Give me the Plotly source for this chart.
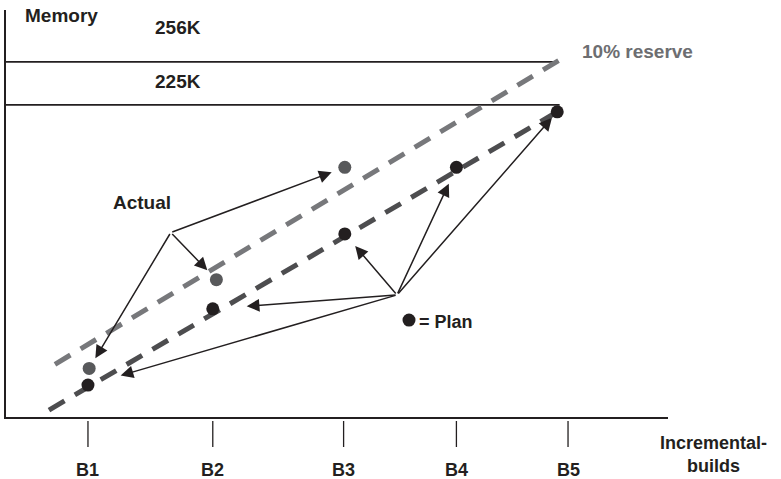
import plotly.graph_objects as go

# --- data -------------------------------------------------------------
builds = ["B1", "B2", "B3", "B4", "B5"]
build_pos = [1.0, 2.04, 3.13, 4.07, 5.0]

# planned memory use per incremental build (K)
plan_x = [1.0, 2.04, 3.14, 4.07, 4.91]
plan_mem = [23, 78, 132, 180, 220]

# actual memory use measured so far (K)
actual_x = [1.01, 2.07, 3.14]
actual_mem = [35, 99, 180]

# memory limits
limit_mem = [256, 225]
limit_labels = ["256K", "225K"]
limit_end_x = [4.92, 4.93]

# trend lines: plan and the plan plus 10% reserve
plan_trend_x = [0.675, 4.91]
plan_trend_mem = [5, 220]
reserve_x = [0.725, 5.0]
reserve_mem = [38, 261]

# --- styling ------------------------------------------------------------
FONT = "Liberation Sans"
INK = "#231f20"
GREY = "#6d6e71"
X_RANGE = [0.317, 5.833]
Y_RANGE = [0, 293.4]
PLOT_H = 407  # px

fig = go.Figure()

# limit lines
for mem, x_end in zip(limit_mem, limit_end_x):
    fig.add_trace(go.Scatter(x=[X_RANGE[0], x_end], y=[mem, mem], mode="lines",
                             line=dict(color=INK, width=1.6), hoverinfo="skip"))

# dashed trend lines
fig.add_trace(go.Scatter(x=reserve_x, y=reserve_mem, mode="lines",
                         line=dict(color="#77787b", width=5, dash="18px,12px"),
                         hoverinfo="skip"))
fig.add_trace(go.Scatter(x=plan_trend_x, y=plan_trend_mem, mode="lines",
                         line=dict(color="#4d4d4f", width=5, dash="18px,12px"),
                         hoverinfo="skip"))

# points
fig.add_trace(go.Scatter(x=actual_x, y=actual_mem, mode="markers",
                         marker=dict(color="#58595b", size=13), name="Actual"))
fig.add_trace(go.Scatter(x=plan_x, y=plan_mem, mode="markers",
                         marker=dict(color=INK, size=13), name="Plan"))

# legend key for the plan dot
key_x, key_mem = 3.675, 69.9
fig.add_trace(go.Scatter(x=[key_x], y=[key_mem], mode="markers",
                         marker=dict(color=INK, size=13), hoverinfo="skip",
                         cliponaxis=False))

annotations = []


def label(text, x, y, size=18, color=INK, xanchor="left", yref="y", **kw):
    annotations.append(dict(text=text, x=x, y=y, xref="x", yref=yref,
                            showarrow=False, xanchor=xanchor, yanchor="middle",
                            font=dict(family=FONT, size=size, color=color, weight="bold"),
                            **kw))


def arrows(origin, xs, ms, standoffs):
    for x, m, so in zip(xs, ms, standoffs):
        annotations.append(dict(x=x, y=m, ax=origin[0], ay=origin[1],
                                xref="x", yref="y", axref="x", ayref="y", text="",
                                showarrow=True, arrowhead=2, arrowsize=1.7,
                                arrowwidth=1.5, arrowcolor=INK, standoff=so))


# arrows from the "Actual" callout and from the plan callout
arrows((1.69, 133), actual_x, actual_mem, [12, 13, 14])
arrows((3.575, 88), plan_x, plan_mem, [34, 34, 16, 18, 8])

label("Memory", 0.458, 289.5, size=19)
label(limit_labels[0], 1.542, 281, size=19)
label(limit_labels[1], 1.542, 241.5, size=19)
label("10% reserve", 5.1, 263.8, size=19, color=GREY)
label("Actual", 1.45, 154.3, size=19, xanchor="center")
label("= Plan", 3.74, 68.5)
label("Incremental-<br>builds", 5.75, 0, size=18, yref="paper", yshift=-37)

# build tick labels
for b, pos in zip(builds, build_pos):
    label(b, pos, 0, size=18, xanchor="center", yref="paper", yshift=-53)

# detached tick marks below the axis
shapes = [dict(type="line", xref="x", yref="paper", x0=p, x1=p,
               y0=-4 / PLOT_H, y1=-30 / PLOT_H, line=dict(color=INK, width=1.3))
          for p in build_pos]

fig.update_layout(
    width=781, height=479,
    margin=dict(l=6, r=113, t=10, b=62),
    paper_bgcolor="white", plot_bgcolor="white",
    showlegend=False,
    annotations=annotations,
    shapes=shapes,
    xaxis=dict(range=X_RANGE, showgrid=False, zeroline=False, showticklabels=False,
               showline=True, linecolor=INK, linewidth=2, fixedrange=True),
    yaxis=dict(range=Y_RANGE, showgrid=False, zeroline=False, showticklabels=False,
               showline=True, linecolor=INK, linewidth=2, fixedrange=True),
)

fig.write_html("out.html")
